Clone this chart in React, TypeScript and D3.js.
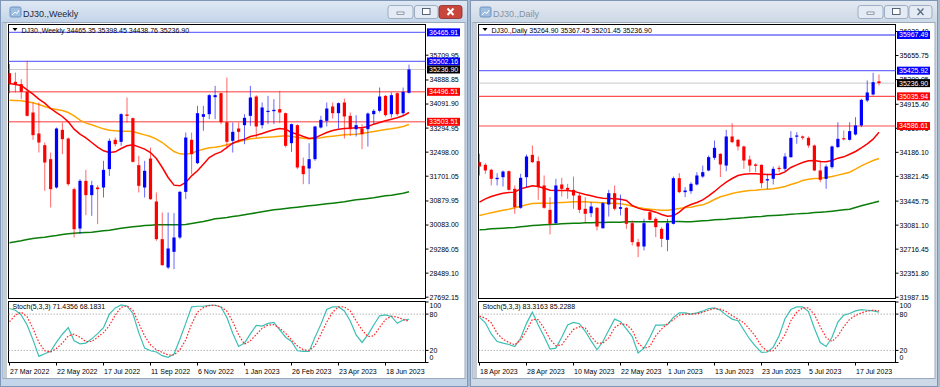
import * as d3 from 'd3';

// ---------- DJ30 weekly (27 Mar 2022 .. 16 Jul 2023) ----------
const weeklyDates = ['27 Mar 2022', '22 May 2022', '17 Jul 2022', '11 Sep 2022', '6 Nov 2022', '1 Jan 2023', '26 Feb 2023', '23 Apr 2023', '18 Jun 2023'];
const weeklyOpen = [35114, 34827, 34750, 34496, 33811, 33116, 32729, 32265, 31327, 33237, 32950, 31271, 29968, 31547, 31073, 31327, 31327, 31934, 32906, 32840, 33745, 33624, 32067, 31327, 32287, 30863, 29615, 28676, 29195, 29670, 31183, 32906, 32133, 33668, 33756, 34319, 34452, 33491, 32873, 33281, 33392, 33701, 34341, 33392, 33833, 33855, 33922, 33789, 32795, 33392, 32044, 31956, 32265, 33314, 33535, 34010, 33789, 34143, 33701, 33259, 33281, 33259, 33756, 33867, 34363, 33756, 34452, 33789, 34465.35];
const weeklyHigh = [35424, 35136, 34916, 35523, 34143, 34143, 32817, 32486, 33314, 33480, 32983, 31327, 31603, 31912, 31547, 31404, 32210, 32950, 32983, 33789, 34308, 33646, 32376, 32210, 32652, 31161, 30498, 30498, 30476, 31216, 33149, 33149, 34032, 34032, 34419, 34695, 34474, 34971, 33480, 33480, 33756, 34695, 34386, 34143, 34363, 34253, 34529, 33811, 33440, 33425, 32321, 32795, 33370, 33701, 34143, 34143, 34143, 34275, 33811, 33723, 33425, 33811, 33922, 34640, 34386, 34474, 34474, 34640, 35398.45];
const weeklyLow = [34452, 34474, 34253, 33679, 32906, 32486, 31216, 30664, 31290, 32431, 31382, 29670, 29781, 30410, 30388, 30112, 30995, 31713, 32685, 32707, 33480, 32155, 31161, 30995, 30918, 29560, 28732, 28621, 28621, 29615, 30940, 31768, 32100, 33204, 33590, 33590, 33425, 32597, 32486, 32817, 32762, 33370, 32983, 33281, 33425, 33425, 33458, 32652, 32508, 31934, 31437, 31437, 32210, 33281, 33348, 33613, 33281, 32950, 33038, 33016, 32597, 32685, 33425, 33811, 33679, 33646, 33701, 33701, 34438.76];
const weeklyClose = [34750, 34739, 34496, 33701, 33060, 32817, 32155, 31271, 33281, 32928, 31437, 29946, 31547, 31073, 31404, 31271, 31912, 32873, 32762, 33756, 33701, 32177, 31382, 31879, 30940, 29615, 28754, 29306, 29670, 31183, 32983, 32431, 33789, 33756, 34386, 34386, 33491, 32840, 33171, 33171, 33635, 34308, 33348, 33977, 33867, 33900, 33811, 32707, 33425, 31989, 31768, 32265, 33348, 33568, 33944, 33789, 34121, 33679, 33259, 33392, 33094, 33778, 33867, 34341, 33723, 34386, 33756, 34496, 35236.90];
const weeklyMaRed = [34772, 34739, 34706, 34562, 34419, 34253, 34121, 33944, 33811, 33679, 33502, 33259, 33094, 32972, 32817, 32663, 32541, 32486, 32508, 32619, 32707, 32740, 32674, 32597, 32486, 32287, 31989, 31658, 31404, 31382, 31492, 31713, 31879, 32100, 32321, 32431, 32508, 32652, 32795, 32873, 32928, 33016, 33060, 33116, 33182, 33237, 33281, 33259, 33149, 33094, 33016, 32950, 32972, 33060, 33149, 33215, 33259, 33281, 33292, 33303, 33303, 33348, 33425, 33480, 33535, 33590, 33635, 33701, 33811];
const weeklyMaOrange = [34220, 34209, 34198, 34165, 34132, 34076, 34010, 33944, 33911, 33878, 33811, 33701, 33557, 33458, 33403, 33336, 33270, 33226, 33204, 33193, 33193, 33182, 33127, 33071, 33016, 32928, 32817, 32663, 32519, 32442, 32431, 32464, 32541, 32597, 32641, 32663, 32696, 32740, 32795, 32851, 32895, 32939, 32961, 32983, 32994, 33005, 33027, 33038, 33016, 32994, 32961, 32939, 32950, 32972, 33005, 33027, 33049, 33071, 33082, 33094, 33116, 33149, 33182, 33215, 33248, 33270, 33303, 33348, 33414];
const weeklyMaGreen = [29493, 29527, 29560, 29604, 29637, 29659, 29681, 29714, 29736, 29770, 29792, 29814, 29825, 29836, 29847, 29869, 29891, 29913, 29946, 29979, 30001, 30024, 30046, 30068, 30079, 30090, 30090, 30090, 30090, 30090, 30101, 30134, 30167, 30200, 30244, 30289, 30311, 30333, 30366, 30388, 30421, 30454, 30487, 30520, 30554, 30587, 30609, 30631, 30653, 30675, 30697, 30719, 30741, 30763, 30785, 30808, 30830, 30852, 30885, 30918, 30940, 30962, 30984, 31017, 31051, 31073, 31106, 31139, 31183];
const weeklyStochK = [89.2, 86.4, 78.3, 61.9, 37.4, 10.2, 14.5, 18.4, 33.6, 46.7, 57.6, 35.8, 30.9, 32, 39.1, 47.8, 57.6, 79.9, 90.2, 95.1, 93.5, 81, 49.4, 23.8, 19.4, 17.3, 11.3, 8.6, 14, 38.5, 64.7, 91.9, 93, 93, 94.6, 94.6, 91.9, 74.5, 48.3, 26.5, 32, 47.2, 61.4, 60.3, 64.7, 66.3, 53.8, 41.8, 34.7, 19.4, 18.4, 18.4, 41.8, 63, 87.5, 91.9, 91.9, 85.3, 68.5, 45.6, 33.1, 45.6, 61.9, 77.2, 78.8, 76.1, 64.7, 70.1, 71.44];
const weeklyStochD = [67.4, 78.3, 83.2, 75.5, 56.5, 33, 19.4, 17.3, 23.3, 32, 44, 46.7, 41.8, 34.7, 34.7, 41.8, 49.4, 61.4, 78.3, 91.3, 93.5, 86.4, 64.7, 44, 29.2, 21.1, 16.7, 12.4, 12.4, 21.1, 37.4, 63.6, 83.2, 90.8, 94.1, 94.6, 91.9, 84.8, 67.4, 45.6, 30.3, 35.8, 46.1, 56.5, 61.9, 62.5, 56.5, 48.3, 37.4, 27.6, 21.1, 20, 27.6, 46.7, 66.8, 83.2, 91.9, 91.9, 85.3, 69, 53.8, 42.9, 44, 58.1, 71.2, 76.6, 75, 71.2, 68.18];
const weeklyPriceTicks = [35709.95, 34888.85, 34091.90, 33294.95, 32498.00, 31701.05, 30879.95, 30083.00, 29286.05, 28489.10, 27692.15];
const weeklyBlueLevels = [36465.91, 35502.16];
const weeklyRedLevels = [34496.51, 33503.51];

// ---------- DJ30 daily (18 Apr 2023 .. 21 Jul 2023) ----------
const dailyDates = ['18 Apr 2023', '28 Apr 2023', '10 May 2023', '22 May 2023', '1 Jun 2023', '13 Jun 2023', '23 Jun 2023', '5 Jul 2023', '17 Jul 2023'];
const dailyOpen = [34037, 33997, 33921, 33779, 33809, 33900, 33632, 33344, 33809, 34148, 34052, 33683, 33313, 33111, 33698, 33647, 33617, 33531, 33329, 33263, 33344, 33035, 33394, 33566, 33329, 33344, 33111, 32823, 32757, 33278, 33177, 33025, 32858, 33101, 33794, 33582, 33597, 33698, 33819, 33911, 34103, 34163, 33986, 34427, 34376, 34275, 34077, 34002, 33997, 33759, 33784, 33951, 33936, 34113, 34427, 34427, 34406, 34290, 33911, 33784, 33961, 34265, 34401, 34376, 34457, 34594, 34973, 35064, 35264.90];
const dailyHigh = [34164, 34022, 33936, 33870, 33911, 33911, 33683, 33860, 34153, 34290, 34123, 33835, 33506, 33784, 33799, 33708, 33819, 33582, 33506, 33430, 33354, 33430, 33617, 33683, 33546, 33354, 33152, 32873, 33177, 33313, 33202, 33050, 33177, 33819, 33870, 33658, 33733, 33885, 33986, 34138, 34366, 34174, 34528, 34629, 34391, 34290, 34138, 34022, 34002, 33860, 33971, 33986, 34174, 34508, 34492, 34442, 34427, 34305, 34062, 34002, 34290, 34644, 34518, 34644, 34720, 34998, 35277, 35393, 35367.45];
const dailyLow = [33835, 33860, 33683, 33683, 33668, 33607, 33253, 33329, 33658, 34022, 33465, 33329, 32939, 33101, 33516, 33480, 33329, 33263, 33111, 33202, 33000, 33025, 33212, 33303, 33227, 33025, 32772, 32595, 32696, 33152, 32899, 32747, 32686, 33091, 33566, 33506, 33556, 33683, 33799, 33900, 34072, 33809, 33900, 34325, 34214, 33936, 33885, 33885, 33647, 33632, 33698, 33885, 33900, 34103, 34315, 34376, 34255, 33900, 33733, 33632, 33936, 34255, 34366, 34366, 34442, 34568, 34948, 35049, 35201.45];
const dailyClose = [33971, 33911, 33784, 33799, 33895, 33617, 33354, 33799, 34123, 34037, 33658, 33344, 33101, 33683, 33632, 33617, 33531, 33313, 33253, 33364, 33060, 33415, 33566, 33329, 33354, 33101, 32823, 32757, 33111, 33162, 33050, 32873, 33111, 33794, 33582, 33607, 33708, 33835, 33885, 34113, 34255, 34002, 34427, 34341, 34275, 34062, 33986, 33981, 33718, 33779, 33936, 33931, 34123, 34406, 34442, 34406, 34290, 33911, 33769, 33971, 34275, 34391, 34386, 34508, 34594, 34983, 35095, 35251, 35236.90];
const dailyMaRed = [33430, 33480, 33516, 33541, 33566, 33576, 33582, 33632, 33657, 33678, 33668, 33642, 33612, 33607, 33607, 33607, 33597, 33571, 33546, 33526, 33506, 33490, 33485, 33480, 33475, 33455, 33379, 33339, 33313, 33303, 33278, 33243, 33217, 33222, 33278, 33354, 33394, 33425, 33465, 33526, 33592, 33668, 33733, 33789, 33835, 33855, 33860, 33860, 33855, 33850, 33850, 33855, 33890, 33956, 33996, 34032, 34057, 34062, 34047, 34042, 34062, 34098, 34118, 34158, 34199, 34255, 34315, 34386, 34492];
const dailyMaOrange = [33227, 33248, 33268, 33288, 33308, 33323, 33344, 33369, 33389, 33410, 33415, 33415, 33415, 33420, 33425, 33430, 33435, 33435, 33435, 33430, 33425, 33420, 33415, 33415, 33404, 33389, 33369, 33349, 33334, 33323, 33313, 33308, 33308, 33318, 33334, 33349, 33354, 33374, 33389, 33425, 33470, 33511, 33536, 33561, 33582, 33597, 33607, 33612, 33622, 33627, 33632, 33647, 33668, 33698, 33723, 33759, 33779, 33789, 33794, 33804, 33819, 33840, 33860, 33885, 33931, 33981, 34022, 34062, 34093];
const dailyMaGreen = [33010, 33015, 33025, 33030, 33035, 33040, 33045, 33055, 33065, 33076, 33081, 33086, 33091, 33096, 33101, 33106, 33111, 33111, 33116, 33116, 33121, 33121, 33126, 33126, 33126, 33131, 33131, 33131, 33131, 33131, 33131, 33131, 33131, 33136, 33136, 33131, 33131, 33141, 33146, 33151, 33161, 33166, 33172, 33182, 33187, 33192, 33202, 33207, 33212, 33222, 33227, 33232, 33237, 33247, 33252, 33257, 33262, 33272, 33278, 33283, 33293, 33303, 33313, 33323, 33349, 33374, 33399, 33420, 33445];
const dailyStochK = [74.5, 65.7, 47.2, 34.7, 32, 29.8, 26.5, 40.1, 64.7, 83.2, 61.9, 42.9, 22.2, 23.8, 41.8, 61.9, 66.3, 64.1, 51.6, 35.8, 21.1, 34.7, 53.2, 71.7, 67.4, 55.4, 42.9, 15.6, 23.8, 41.2, 61.9, 61.9, 62.5, 74.5, 82.1, 82.1, 79.9, 82.1, 84.8, 89.2, 90.3, 86.4, 78.3, 71.7, 69, 53.8, 38.5, 26.5, 16.7, 17.3, 25.4, 44, 72.3, 87.5, 91.9, 91.9, 84.3, 56.5, 33, 26.5, 41.8, 66.8, 78.3, 81, 85.3, 87.5, 86.4, 85.3, 83.32];
const dailyStochD = [76.6, 73.4, 65.7, 48.3, 38.5, 33, 29.2, 36.9, 52.7, 71.2, 70.6, 56.5, 38.5, 27.6, 29.2, 42.3, 54.8, 59.2, 57, 42.9, 32, 32, 40.7, 57.6, 64.1, 62.5, 53.8, 32, 23.3, 26.5, 44, 55.4, 64.1, 70.6, 78.3, 79.9, 79.9, 80.4, 83.2, 86.4, 89.2, 88.1, 84.3, 77.2, 71.7, 65.7, 54.8, 42.9, 26.5, 18.9, 19.4, 30.9, 46.1, 69, 83.2, 90.3, 90.3, 79.4, 59.2, 41.2, 34.7, 44, 59.2, 71.2, 77.7, 82.1, 84.8, 86.4, 85.23];
const dailyPriceTicks = [36020.40, 35655.75, 35290.05, 34915.40, 34550.75, 34186.10, 33821.45, 33445.75, 33081.10, 32716.45, 32351.80, 31987.15];
const dailyBlueLevels = [35967.49, 35425.92];
const dailyRedLevels = [35035.94, 34586.61];

const lastPrice = 35236.90;
const stochTicks = [100, 80, 20, 0];

const FONT = '"Liberation Sans", Arial, sans-serif';

function ChartWindow(props: any) {
  const { wx, active, title, header, stochHeader, dates, open, high, low, close,
    maRed, maOrange, maGreen, stochK, stochD, priceTicks, blueLevels, redLevels, yDomain, thickRed } = props;

  const plotL = wx + 8.5;
  const plotR = wx + 425.5;
  const mainTop = 24.5;
  const mainBot = 298.5;
  const stTop = 301.5;
  const stBot = 362.5;

  const x = d3.scaleLinear().domain([0, 68]).range([wx + 9.5, wx + 9.5 + 68 * 5.875]);
  const y = d3.scaleLinear().domain(yDomain).range([mainBot, mainTop]);
  const ys = d3.scaleLinear().domain([0, 100]).range([362.5, 302]);

  const ma = d3.line<number>().x((_, i) => x(i)).y(d => y(d));
  const st = d3.line<number>().x((_, i) => x(i)).y(d => ys(d));
  const clipMain = `clipMain${wx}`;
  const clipSt = `clipSt${wx}`;

  const frameFill = active ? '#c4d5ea' : '#cdd9e7';
  const titleColor = active ? '#1b2a3c' : '#8593a4';

  const boxes = [
    ...blueLevels.map((v: number) => ({ v, fill: '#0000ff' })),
    { v: lastPrice, fill: '#000000' },
    ...redLevels.map((v: number) => ({ v, fill: '#ff0000' })),
  ];

  return (
    <g fontFamily={FONT}>
      <defs>
        <linearGradient id={`tg${wx}`} x1="0" y1="0" x2="0" y2="1">
          <stop offset="0" stopColor={active ? '#dfe8f4' : '#e3e9f1'} />
          <stop offset="1" stopColor={frameFill} />
        </linearGradient>
        <clipPath id={clipMain}><rect x={plotL} y={mainTop} width={plotR - plotL} height={mainBot - mainTop} /></clipPath>
        <clipPath id={clipSt}><rect x={plotL} y={stTop} width={plotR - plotL} height={stBot - stTop} /></clipPath>
      </defs>

      {/* window frame */}
      <rect x={wx + 0.5} y={0.5} width={467} height={386} fill={frameFill} stroke="#7f97b6" />
      <rect x={wx + 1} y={1} width={466} height={21} fill={`url(#tg${wx})`} />
      <rect x={wx + 10} y={7} width={11} height={10} rx={1.5} fill="#9fbfe0" stroke="#5d86b8" strokeWidth={0.8} />
      <path d={`M${wx + 12},15 L${wx + 15},12 L${wx + 17},13.5 L${wx + 19},10`} fill="none" stroke="#ffffff" strokeWidth={1} />
      <text x={wx + 23} y={16.5} fontSize={9} fill={titleColor}>{title}</text>
      {[0, 1, 2].map(k => {
        const bx = wx + [388, 414.5, 439][k];
        const bw = [25, 23.5, 23][k];
        const isClose = k === 2 && active;
        return (
          <g key={k}>
            <rect x={bx} y={5.5} width={bw} height={13} rx={2.5}
              fill={isClose ? '#c9463d' : '#e4ebf4'} stroke={isClose ? '#8a2a24' : '#8ea0b8'} strokeWidth={0.8} />
            {k === 0 && <rect x={bx + 9} y={12} width={7} height={2.2} fill="#ffffff" stroke="#44566e" strokeWidth={0.6} />}
            {k === 1 && <rect x={bx + 8} y={8.5} width={7.5} height={6} fill="#ffffff" stroke="#44566e" strokeWidth={0.9} />}
            {k === 2 && <path d={`M${bx + 8.5},8.5 L${bx + 14.5},15 M${bx + 14.5},8.5 L${bx + 8.5},15`}
              stroke={isClose ? '#ffffff' : '#5d6e85'} strokeWidth={isClose ? 2 : 1.4} />}
          </g>
        );
      })}

      {/* client area */}
      <rect x={wx + 3} y={22.5} width={462} height={356} fill="#ffffff" stroke="#9aa9bc" />
      <rect x={wx + 3.5} y={23} width={3.5} height={355} fill="#c6ccd4" />

      {/* main panel */}
      <rect x={plotL} y={mainTop} width={plotR - plotL} height={mainBot - mainTop} fill="#ffffff" stroke="#000000" />
      <g clipPath={`url(#${clipMain})`}>
        {blueLevels.map((v: number, i: number) => (
          <line key={`b${i}`} x1={plotL} x2={plotR} y1={y(v)} y2={y(v)} stroke="#6e6eff" strokeWidth={1.3} />
        ))}
        <line x1={plotL} x2={plotR} y1={y(lastPrice)} y2={y(lastPrice)} stroke="#c8c8c8" strokeWidth={1} />
        {redLevels.map((v: number, i: number) => (
          <line key={`r${i}`} x1={plotL} x2={plotR} y1={y(v)} y2={y(v)}
            stroke={thickRed ? '#ff7b7b' : '#ff5050'} strokeWidth={thickRed ? 1.6 : 1.1} />
        ))}
        <path d={ma(maGreen) || ''} fill="none" stroke="#0a7d0a" strokeWidth={1.5} />
        <path d={ma(maOrange) || ''} fill="none" stroke="#ffa500" strokeWidth={1.5} />
        <path d={ma(maRed) || ''} fill="none" stroke="#ff0000" strokeWidth={1.5} />
        {open.map((o: number, i: number) => {
          const c = close[i];
          const up = c >= o;
          const col = up ? '#0000ff' : '#ff0000';
          const top = y(Math.max(o, c));
          const bot = y(Math.min(o, c));
          return (
            <g key={i}>
              <line x1={x(i)} x2={x(i)} y1={y(high[i])} y2={y(low[i])} stroke={col} strokeOpacity={0.6} strokeWidth={1} />
              <rect x={x(i) - 1.6} y={top} width={3.2} height={Math.max(bot - top, 1.2)} fill={col} />
            </g>
          );
        })}
      </g>
      <path d={`M${plotL + 4},28 L${plotL + 9},28 L${plotL + 6.5},31 Z`} fill="#000000" />
      <text x={plotL + 13} y={32.5} fontSize={7} fill="#000000">{header}</text>

      {/* price axis */}
      {priceTicks.map((v: number, i: number) => (
        <g key={`t${i}`}>
          <line x1={plotR} x2={plotR + 3} y1={y(v)} y2={y(v)} stroke="#000000" />
          <text x={plotR + 4} y={y(v)} dy="0.35em" fontSize={7} fill="#000000">{v.toFixed(2)}</text>
        </g>
      ))}
      {boxes.map((b, i) => (
        <g key={`bx${i}`}>
          <rect x={plotR + 1.5} y={y(b.v) - 4} width={33} height={8} fill={b.fill} />
          <text x={plotR + 3.5} y={y(b.v)} dy="0.35em" fontSize={7} fill="#ffffff">{b.v.toFixed(2)}</text>
        </g>
      ))}

      {/* stochastic panel */}
      <rect x={plotL} y={stTop} width={plotR - plotL} height={stBot - stTop} fill="#ffffff" stroke="#000000" />
      <g clipPath={`url(#${clipSt})`}>
        {[80, 20].map(v => (
          <line key={v} x1={plotL} x2={plotR} y1={ys(v)} y2={ys(v)} stroke="#b4b4b4" strokeDasharray="1.5 1.5" />
        ))}
        <path d={st(stochK) || ''} fill="none" stroke="#3cbfb3" strokeWidth={1.2} />
        <path d={st(stochD) || ''} fill="none" stroke="#ff2a2a" strokeWidth={1.2} strokeDasharray="1.6 1.6" />
      </g>
      <text x={plotL + 4} y={309} fontSize={7} fill="#000000">{stochHeader}</text>
      {stochTicks.map(v => {
        const ty = Math.min(Math.max(ys(v), stTop + 4.5), stBot - 4.5);
        return (
          <g key={`s${v}`}>
            <line x1={plotR} x2={plotR + 3} y1={ys(v)} y2={ys(v)} stroke="#000000" />
            <text x={plotR + 4} y={ty} dy="0.35em" fontSize={7} fill="#000000">{v}</text>
          </g>
        );
      })}

      {/* date axis */}
      {dates.map((d: string, i: number) => (
        <g key={d}>
          <line x1={x(i * 8)} x2={x(i * 8)} y1={stBot} y2={stBot + 3} stroke="#000000" />
          <text x={x(i * 8) + 0.5} y={373.5} fontSize={7} fill="#000000">{d}</text>
        </g>
      ))}
    </g>
  );
}

export default function App() {
  return (
    <div style={{ position: 'fixed', left: 0, top: 0 }}>
      <svg width={940} height={387} style={{ display: 'block' }}>
        <rect x={0} y={0} width={940} height={387} fill="#a9b9cc" />
        <ChartWindow wx={0} active title="DJ30.,Weekly"
          header="DJ30.,Weekly  34465.35 35398.45 34438.76 35236.90"
          stochHeader="Stoch(5,3,3) 71.4356 68.1831"
          dates={weeklyDates} open={weeklyOpen} high={weeklyHigh} low={weeklyLow} close={weeklyClose}
          maRed={weeklyMaRed} maOrange={weeklyMaOrange} maGreen={weeklyMaGreen}
          stochK={weeklyStochK} stochD={weeklyStochD}
          priceTicks={weeklyPriceTicks} blueLevels={weeklyBlueLevels} redLevels={weeklyRedLevels}
          yDomain={[27649, 36727]} thickRed />
        <ChartWindow wx={470} active={false} title="DJ30.,Daily"
          header="DJ30.,Daily  35264.90 35367.45 35201.45 35236.90"
          stochHeader="Stoch(5,3,3) 83.3163 85.2288"
          dates={dailyDates} open={dailyOpen} high={dailyHigh} low={dailyLow} close={dailyClose}
          maRed={dailyMaRed} maOrange={dailyMaOrange} maGreen={dailyMaGreen}
          stochK={dailyStochK} stochD={dailyStochD}
          priceTicks={dailyPriceTicks} blueLevels={dailyBlueLevels} redLevels={dailyRedLevels}
          yDomain={[31967.4, 36126.7]} thickRed={false} />
      </svg>
    </div>
  );
}
